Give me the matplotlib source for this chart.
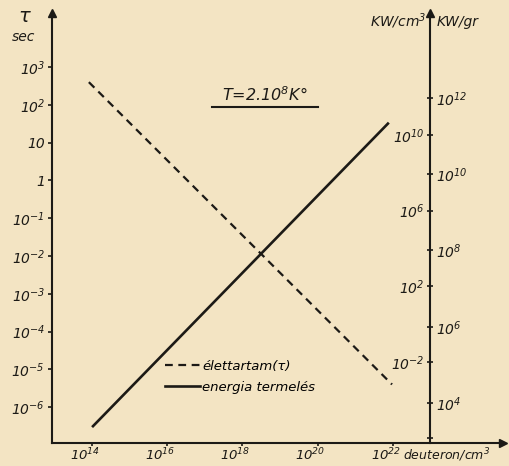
import matplotlib
matplotlib.use('Agg')
import matplotlib.pyplot as plt
import matplotlib.transforms as mtransforms
import numpy as np

plt.rcParams['font.family'] = 'DejaVu Sans'
plt.rcParams['font.style'] = 'italic'
plt.rcParams['mathtext.fontset'] = 'custom'
plt.rcParams['mathtext.rm'] = 'DejaVu Sans:italic'
plt.rcParams['mathtext.it'] = 'DejaVu Sans:italic'

# data (log10 values)
density_tau = [13.92, 21.98]      # deuteron/cm3
lifetime = [2.6, -5.4]            # sec
density_power = [14.03, 21.87]    # deuteron/cm3
power = [-5.4, 10.6]              # KW/cm3

x_ticks = [14, 16, 18, 20, 22]
tau_ticks = [3, 2, 1, 0, -1, -2, -3, -4, -5, -6]
tau_labels = ['$10^{3}$', '$10^{2}$', '10', '1', '$10^{-1}$', '$10^{-2}$',
              '$10^{-3}$', '$10^{-4}$', '$10^{-5}$', '$10^{-6}$']
cm3_ticks = [10, 6, 2, -2, -6]
cm3_labels = ['$10^{10}$', '$10^{6}$', '$10^{2}$', '$10^{-2}$', '']
gr_ticks = [12, 10, 8, 6, 4]
gr_labels = ['$10^{12}$', '$10^{10}$', '$10^{8}$', '$10^{6}$', '$10^{4}$']

paper = '#f3e4c3'
ink = '#1c1a16'
W, H = 509, 466


def px(x, y):
    return x / W, 1 - y / H


fig = plt.figure(figsize=(5.09, 4.66), dpi=100, facecolor=paper)
ax = fig.add_axes([52 / W, 23 / H, 451 / W, 430 / H])
ax.set_facecolor('none')
ax.set_xscale('log')
ax.set_yscale('log')
ax.set_xlim(10**12.94, 10**24.93)
ax.set_ylim(10**-6.95, 10**4.43)

ax_gr = ax.twinx()
ax_gr.set_yscale('log')
ax_gr.set_ylim(10**2.95, 10**14.23)
ax_cm = ax.twinx()
ax_cm.set_yscale('log')
ax_cm.set_ylim(10**-6.29, 10**16.45)

right_pos = (430 - 52) / 451

for a in (ax, ax_gr, ax_cm):
    a.spines['top'].set_visible(False)
    for s in a.spines.values():
        s.set_color(ink)
        s.set_linewidth(1.5)

ax.spines['right'].set_visible(False)
ax_gr.spines['left'].set_visible(False)
ax_gr.spines['bottom'].set_visible(False)
ax_gr.spines['right'].set_position(('axes', right_pos))
ax_cm.spines['right'].set_visible(False)
ax_cm.spines['bottom'].set_visible(False)
ax_cm.spines['left'].set_visible(False)
ax_cm.yaxis.set_ticks_position('left')
ax_cm.spines['left'].set_position(('axes', right_pos))

ax.set_xticks([10.0**v for v in x_ticks])
ax.set_xticklabels([f'$10^{{{v}}}$' for v in x_ticks])
ax.set_yticks([10.0**v for v in tau_ticks])
ax.set_yticklabels(tau_labels)
ax_gr.set_yticks([10.0**v for v in gr_ticks])
ax_gr.set_yticklabels(gr_labels)
ax_cm.set_yticks([10.0**v for v in cm3_ticks])
ax_cm.set_yticklabels(cm3_labels)
for a in (ax, ax_gr, ax_cm):
    a.minorticks_off()

ax.tick_params(axis='x', direction='out', length=2, width=1.2, colors=ink,
               labelsize=9.5, pad=0.5)
ax.tick_params(axis='y', direction='out', length=3, width=1.2, colors=ink,
               labelsize=10, pad=2)
ax_gr.tick_params(axis='y', direction='inout', length=4, width=1.2, colors=ink,
                  labelsize=10, pad=2)
ax_cm.tick_params(axis='y', direction='inout', length=4, width=1.2, colors=ink,
                  labelsize=10, pad=2)

# hand lettering puts the tick over the exponent: nudge labels left
shift = mtransforms.ScaledTranslation(-7 / 100, 0, fig.dpi_scale_trans)
for lab in ax.get_xticklabels():
    lab.set_transform(lab.get_transform() + shift)

# arrow heads
ax.plot([0], [1], marker='^', ms=6, color=ink, transform=ax.transAxes, clip_on=False)
ax.plot([right_pos], [1], marker='^', ms=6, color=ink, transform=ax.transAxes, clip_on=False)
ax.plot([1], [0], marker='>', ms=6, color=ink, transform=ax.transAxes, clip_on=False)

# curves
ax.plot([10.0**v for v in density_tau], [10.0**v for v in lifetime],
        color=ink, lw=1.6, ls=(0, (3.5, 2.5)), label='élettartam(τ)')
ax_cm.plot([10.0**v for v in density_power], [10.0**v for v in power],
           color=ink, lw=1.9, label='energia termelés')

h1, l1 = ax.get_legend_handles_labels()
h2, l2 = ax_cm.get_legend_handles_labels()
fig.legend(h1 + h2, l1 + l2, loc='center left', bbox_to_anchor=px(160, 377),
           frameon=False, fontsize=9.5, handlelength=2.6, handletextpad=0.2,
           labelspacing=0.6, borderaxespad=0)

# texts
fig.text(*px(24, 17), 'τ', fontsize=14, ha='center', va='center', color=ink)
fig.text(*px(24, 37), 'sec', fontsize=10, ha='center', va='center', color=ink)
fig.text(*px(426, 21), 'KW/cm$^3$', fontsize=10, ha='right', va='center', color=ink)
fig.text(*px(437, 22), 'KW/gr', fontsize=10, ha='left', va='center', color=ink)
fig.text(*px(403, 455), 'deuteron/cm$^3$', fontsize=9, ha='left', va='center', color=ink)
fig.text(*px(265, 95), 'T=2.10$^8$K°', fontsize=11.5, ha='center', va='center', color=ink)
fig.add_artist(plt.Line2D([212 / W, 318 / W], [1 - 107 / H, 1 - 107 / H],
                          color=ink, lw=1.5))

fig.savefig('out.png', dpi=100, facecolor=paper)
